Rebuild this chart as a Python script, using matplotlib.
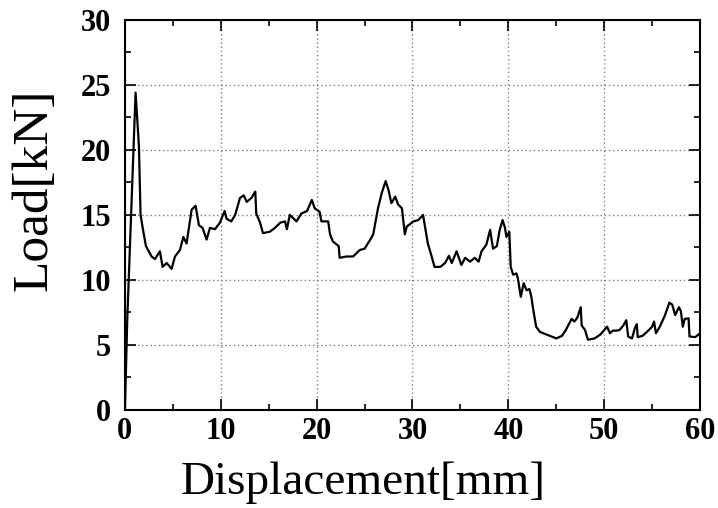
import matplotlib.pyplot as plt

# displacement [mm] and load [kN]
disp = [0.0, 0.24, 1.11, 1.46, 1.63, 1.9, 2.19, 2.78, 3.13, 3.65, 3.93, 4.35, 4.87,
        5.22, 5.74, 6.09, 6.43, 6.96, 7.37, 7.72, 8.1, 8.52, 8.87, 9.39, 9.91,
        10.4, 10.6, 11.1, 11.5, 12.0, 12.4, 12.7, 13.2, 13.6, 13.7, 14.1, 14.4,
        15.1, 15.65, 16.2, 16.7, 16.9, 17.2, 17.9, 18.4, 19.0, 19.5, 19.8, 20.3,
        20.5, 21.2, 21.4, 21.7, 22.3, 22.4, 23.1, 23.8, 24.5, 25.0, 25.6, 25.9,
        26.4, 26.8, 27.2, 27.5, 27.8, 28.2, 28.5, 28.9, 29.2, 29.4, 30.1, 30.6,
        31.1, 31.3, 31.6, 32.0, 32.3, 32.9, 33.4, 33.8, 34.1, 34.6, 35.1, 35.5,
        36.0, 36.5, 36.9, 37.2, 37.7, 38.1, 38.4, 38.8, 39.1, 39.4, 39.65, 39.8,
        40.1, 40.25, 40.5, 40.85, 41.0, 41.3, 41.6, 41.9, 42.2, 42.4, 42.6, 42.9,
        43.3, 44.0, 44.5, 45.0, 45.6, 46.0, 46.6, 46.9, 47.2, 47.55, 47.65, 48.0,
        48.3, 49.0, 49.6, 50.3, 50.6, 50.9, 51.3, 51.6, 52.0, 52.3, 52.5, 52.9,
        53.2, 53.4, 53.5, 54.0, 54.6, 55.0, 55.2, 55.4, 55.8, 56.35, 56.8, 57.1,
        57.4, 57.8, 58.0, 58.2, 58.4, 58.8, 58.9, 59.5, 60.0]
load = [0.0, 6.9, 24.4, 20.3, 15.0, 13.8, 12.6, 11.8, 11.6, 12.2, 11.0, 11.3, 10.85,
        11.8, 12.3, 13.3, 12.8, 15.4, 15.7, 14.2, 14.0, 13.1, 14.0, 13.9, 14.4,
        15.3, 14.7, 14.5, 15.0, 16.3, 16.5, 16.0, 16.3, 16.8, 15.1, 14.4, 13.6,
        13.7, 14.0, 14.4, 14.5, 13.9, 15.0, 14.5, 15.1, 15.3, 16.15, 15.5, 15.25,
        14.5, 14.5, 13.5, 12.95, 12.6, 11.7, 11.8, 11.8, 12.3, 12.4, 13.1, 13.5,
        15.5, 16.7, 17.6, 16.9, 15.9, 16.4, 15.8, 15.5, 13.5, 14.1, 14.5, 14.6,
        15.0, 14.1, 12.8, 11.8, 11.0, 11.0, 11.3, 11.85, 11.3, 12.2, 11.15, 11.7,
        11.4, 11.7, 11.4, 12.2, 12.7, 13.85, 12.4, 12.6, 13.85, 14.6, 14.0, 13.3,
        13.7, 11.0, 10.4, 10.5, 10.1, 8.7, 9.75, 9.2, 9.3, 8.7, 7.7, 6.4,
        6.0, 5.8, 5.65, 5.5, 5.7, 6.15, 7.0, 6.8, 7.1, 7.9, 6.5, 6.15,
        5.4, 5.5, 5.8, 6.4, 5.9, 6.1, 6.1, 6.15, 6.5, 6.9, 5.65, 5.5,
        6.3, 6.6, 5.6, 5.7, 6.1, 6.4, 6.8, 5.9, 6.4, 7.3, 8.25, 8.1,
        7.3, 7.9, 7.6, 6.4, 7.0, 7.05, 5.65, 5.6, 5.9]

xticks = [0, 10, 20, 30, 40, 50, 60]
yticks = [0, 5, 10, 15, 20, 25, 30]

fig = plt.figure(figsize=(7.18, 5.08), dpi=100)
ax = fig.add_axes([0.174, 0.193, 0.801, 0.768])

ax.plot(disp, load, color="black", lw=1.6)

ax.set_xlim(0, 60)
ax.set_ylim(0, 30)
ax.set_xticks(xticks)
ax.set_yticks(yticks)
ax.set_xticks([5, 15, 25, 35, 45, 55], minor=True)
ax.set_yticks([2.5, 7.5, 12.5, 17.5, 22.5, 27.5], minor=True)
ax.grid(True, which="major", linestyle=(0, (1, 2)), color="gray", lw=1)

ax.tick_params(which="both", direction="in", top=True, right=True, width=1.2)
ax.tick_params(which="major", length=8)
ax.tick_params(which="minor", length=4)
ax.tick_params(axis="x", which="major", pad=5)
ax.tick_params(axis="y", which="major", pad=10)
for lab in ax.get_xticklabels() + ax.get_yticklabels():
    lab.set_fontfamily("Liberation Serif")
    lab.set_fontweight("bold")
    lab.set_fontsize(22)
for sp in ax.spines.values():
    sp.set_linewidth(1.5)

ax.set_xlabel("Displacement[mm]", fontfamily="Liberation Serif", fontsize=34)
ax.xaxis.set_label_coords(0.414, -0.215)
ax.xaxis.label.set_va("baseline")
ax.set_ylabel("Load[kN]", fontfamily="Liberation Serif", fontsize=37)
ax.yaxis.set_label_coords(-0.118, 0.564)

fig.savefig("out.png", dpi=100)
